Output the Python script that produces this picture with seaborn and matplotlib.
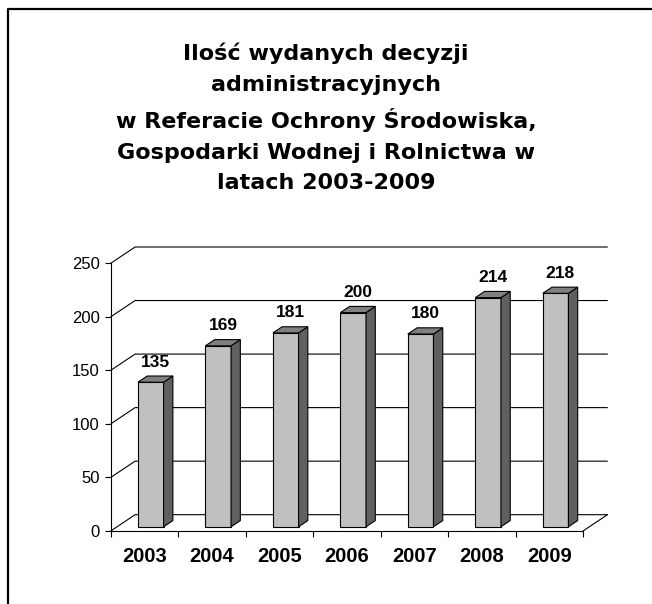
import matplotlib
matplotlib.use("Agg")
import matplotlib.pyplot as plt
from matplotlib.lines import Line2D
from matplotlib.patches import Polygon
import seaborn as sns
import pandas as pd

# data
years = ["2003", "2004", "2005", "2006", "2007", "2008", "2009"]
decisions = [135, 169, 181, 200, 180, 214, 218]
y_ticks = [0, 50, 100, 150, 200, 250]

TITLE = ("Ilość wydanych decyzji\nadministracyjnych\n"
         "w Referacie Ochrony Środowiska,\nGospodarki Wodnej i Rolnictwa w\n"
         "latach 2003-2009")

W, H = 652, 604
FRONT = "#C0C0C0"
SIDE = "#606060"
TOP = "#808080"

sns.set_style("white")
plt.rcParams["font.family"] = ["Liberation Sans", "DejaVu Sans"]
plt.rcParams.update({"text.color": "black", "axes.labelcolor": "black",
                     "xtick.color": "black", "ytick.color": "black"})

df = pd.DataFrame({"year": years, "n": decisions})

fig = plt.figure(figsize=(W / 100, H / 100), dpi=100)
# front plane of the pseudo-3D box (pixels measured on the original)
ax = fig.add_axes([110.7 / W, (H - 531) / H, (583 - 110.7) / W, (531 - 263.3) / H])

sns.barplot(data=df, x="year", y="n", width=0.38, color=FRONT,
            edgecolor="black", linewidth=0.8, saturation=1, ax=ax, zorder=3)
ax.set_xlim(-0.5, len(years) - 0.5)
ax.set_ylim(0, 250)

# depth vector of the box, px -> data units
px_x = ax.bbox.width / len(years)
px_y = ax.bbox.height / 250
ddx = 24.4 / px_x
ddy = 16.3 / px_y
f0, g = 0.26, 0.38   # bar front plane / bar depth as share of box depth

# back wall + side wall grid
x_lo, x_hi = -0.5, len(years) - 0.5
for v in y_ticks:
    ax.plot([x_lo, x_lo + ddx, x_hi + ddx], [v, v + ddy, v + ddy],
            color="black", lw=0.8, clip_on=False, zorder=1)
ax.plot([x_hi, x_hi + ddx], [0, ddy], color="black", lw=0.8, clip_on=False, zorder=1)

# turn flat bars into boxes
for p in list(ax.patches):
    p.set_x(p.get_x() + f0 * ddx)
    p.set_y(f0 * ddy)
    x0, w = p.get_x(), p.get_width()
    y0, h = p.get_y(), p.get_height()
    x1, y1 = x0 + w, y0 + h
    dx, dy = g * ddx, g * ddy
    ax.add_patch(Polygon([(x1, y0), (x1, y1), (x1 + dx, y1 + dy), (x1 + dx, y0 + dy)],
                         closed=True, facecolor=SIDE, edgecolor="black", lw=0.8,
                         zorder=3, clip_on=False))
    ax.add_patch(Polygon([(x0, y1), (x1, y1), (x1 + dx, y1 + dy), (x0 + dx, y1 + dy)],
                         closed=True, facecolor=TOP, edgecolor="black", lw=0.8,
                         zorder=3, clip_on=False))
    ax.annotate(f"{h:.0f}", (x0 + w / 2 + dx / 2, y1), xytext=(0, 14.5),
                textcoords="offset points", ha="center", va="center",
                fontsize=12.5, fontweight="bold", zorder=4, annotation_clip=False)

# axes styling
for s in ["top", "right"]:
    ax.spines[s].set_visible(False)
for s in ["left", "bottom"]:
    ax.spines[s].set_color("black")
    ax.spines[s].set_linewidth(0.8)
ax.set_yticks(y_ticks)
ax.tick_params(axis="y", length=4, width=0.8, pad=4, labelsize=12, colors="black", left=True)
ax.set_xticks(range(len(years)))
ax.set_xticklabels(years, fontsize=14.5, fontweight="bold")
ax.set_xticks([i - 0.5 for i in range(len(years) + 1)], minor=True)
ax.tick_params(axis="x", which="major", length=0, pad=11.5)
ax.tick_params(axis="x", which="minor", length=4.5, width=0.8, direction="out", bottom=True)
ax.set_xlabel("")
ax.set_ylabel("")
ax.grid(False)

# Excel's title is letter-spaced; DejaVu Bold gives a closer line width
fig.text(0.5, 1 - 43 / H, TITLE, ha="center", va="top", fontsize=16,
         fontweight="bold", linespacing=1.66, family=["DejaVu Sans"])

# chart-area frame (only top and left edges show in the crop)
fig.add_artist(Line2D([7.5 / W, 7.5 / W, 1], [0, 1 - 9 / H, 1 - 9 / H],
                      color="black", lw=1.6, transform=fig.transFigure))

fig.savefig("out.png", dpi=100)
